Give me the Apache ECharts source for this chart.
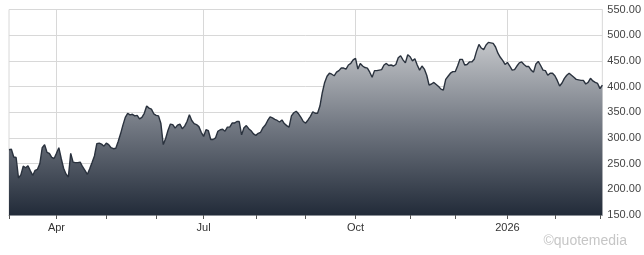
<!DOCTYPE html>
<html>
<head>
<meta charset="utf-8">
<script src="https://cdn.jsdelivr.net/npm/echarts@6/dist/echarts.min.js"></script>
<style>html,body{margin:0;padding:0;background:#fff;}#c{width:644px;height:255px;}</style>
</head>
<body>
<div id="c"></div>
<script>
// Trading calendar (categories): weekdays from startDate to endDate minus market holidays
const startDate = '2025-03-04';
const endDate = '2026-03-03';
const holidays = ['2025-04-18','2025-05-26','2025-06-19','2025-07-04','2025-09-01','2025-11-27','2025-12-25','2026-01-01','2026-01-19','2026-02-16'];
const monthNames = ['Jan','Feb','Mar','Apr','May','Jun','Jul','Aug','Sep','Oct','Nov','Dec'];
const quarterMonths = [0,3,6,9];
const yTicks = [150,200,250,300,350,400,450,500,550];

// Daily closes
const closes = [
277,278,263,262,222,228,245,242,246,236,
227,237,239,250,281,287,272,270,262,260,
270,281,260,241,230,224,270,253,252,252,
253,244,237,229,240,252,265,289,290,288,
284,290,287,281,279,280,293,308,325,340,
348,345,346,343,344,337,340,348,362,358,
356,347,344,343,328,287,299,315,327,326,
319,325,327,318,323,332,345,334,328,326,
322,311,303,316,314,297,297,300,313,316,
317,313,321,321,329,329,332,332,306,320,
324,318,314,308,305,309,311,320,325,334,
341,339,336,334,331,335,328,324,321,343,
349,352,347,340,332,329,335,342,351,348,
348,362,388,408,420,426,424,421,428,431,
436,436,434,442,445,452,455,434,445,440,
437,436,428,418,431,431,432,433,442,445,
441,442,440,443,456,460,452,446,462,458,
450,454,442,432,440,434,422,403,405,408,
404,400,395,393,414,420,426,429,429,440,
453,453,442,443,448,448,453,469,482,475,
472,481,486,485,484,477,465,457,451,443,
447,440,432,433,440,446,448,443,439,439,
432,428,444,449,441,432,431,422,426,426,
421,412,401,407,416,422,426,422,418,414,
413,412,412,405,408,416,411,408,406,396,
403
];

function pad(n){return n<10?'0'+n:''+n;}
function buildDates(){
  const out=[];
  const d=new Date(startDate+'T12:00:00Z');
  const end=new Date(endDate+'T12:00:00Z');
  while(d<=end){
    const wd=d.getUTCDay();
    const s=d.getUTCFullYear()+'-'+pad(d.getUTCMonth()+1)+'-'+pad(d.getUTCDate());
    if(wd!==0&&wd!==6&&holidays.indexOf(s)<0) out.push(s);
    d.setUTCDate(d.getUTCDate()+1);
  }
  return out;
}
const dates = buildDates();
const monthOf = s => parseInt(s.slice(5,7),10)-1;
const isMonthStart = i => i===0 || monthOf(dates[i])!==monthOf(dates[i-1]);
const isQuarterStart = i => i>0 && isMonthStart(i) && quarterMonths.indexOf(monthOf(dates[i]))>=0;

const chart = echarts.init(document.getElementById('c'));
chart.setOption({
  animation:false,
  grid:{left:9,right:40,top:9.5,bottom:40,show:true,borderColor:'#d8d8d8',borderWidth:1,backgroundColor:'transparent'},
  xAxis:{
    type:'category',
    data:dates,
    boundaryGap:false,
    axisLine:{show:true,lineStyle:{color:'#8a8f96',width:1}},
    axisTick:{show:true,length:4,interval:(i)=>isMonthStart(i),lineStyle:{color:'#555'}},
    axisLabel:{
      interval:(i)=>isQuarterStart(i),
      formatter:(v)=>{const m=monthOf(v);return m===0?v.slice(0,4):monthNames[m];},
      color:'#333',fontFamily:'Liberation Sans, Arial, sans-serif',fontSize:11,margin:7
    },
    splitLine:{show:true,interval:(i)=>isQuarterStart(i),lineStyle:{color:'#d8d8d8',width:1}}
  },
  yAxis:{
    type:'value',
    position:'right',
    min:yTicks[0],max:yTicks[yTicks.length-1],interval:50,
    axisLine:{show:false},
    axisTick:{show:false},
    axisLabel:{formatter:(v)=>v.toFixed(2),color:'#444',fontFamily:'Liberation Sans, Arial, sans-serif',fontSize:11,margin:5},
    splitLine:{show:true,lineStyle:{color:'#d8d8d8',width:1}}
  },
  series:[{
    type:'line',
    data:closes,
    showSymbol:false,
    symbol:'none',
    lineStyle:{color:'#2a323e',width:1.4},
    areaStyle:{
      opacity:1,
      color:new echarts.graphic.LinearGradient(0,35,0,215,[
        {offset:0,color:'#cbcdd0'},
        {offset:0.5,color:'#737983'},
        {offset:1,color:'#222b39'}
      ],true)
    }
  }],
  graphic:[{
    type:'text',
    right:17,
    top:234,
    style:{text:'©quotemedia',fill:'#c6c6c6',font:'14px "Liberation Sans", Arial, sans-serif'}
  }]
});
</script>
</body>
</html>
